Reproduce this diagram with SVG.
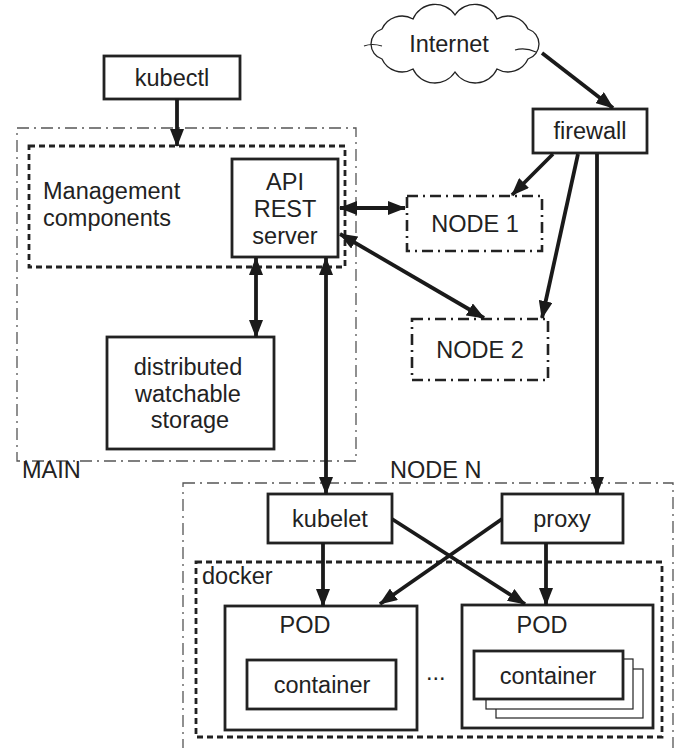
<svg xmlns="http://www.w3.org/2000/svg" width="675" height="748" viewBox="0 0 675 748">
<defs>
<style>
text{font-family:"Liberation Sans",Arial,sans-serif;font-size:23.5px;fill:#222}
.box{fill:none;stroke:#222;stroke-width:2.8}
.fbox{fill:#fff;stroke:#222;stroke-width:2.8}
.thin{fill:#fff;stroke:#222;stroke-width:1.2}
.outer{fill:none;stroke:#555;stroke-width:1.3;stroke-dasharray:12,5,2,5}
.dash{fill:none;stroke:#222;stroke-width:2.8;stroke-dasharray:6,4}
.node{fill:none;stroke:#222;stroke-width:2.6;stroke-dasharray:11,5,2,5}
.c{text-anchor:middle}
.ar{fill:none;stroke:#1a1a1a;stroke-width:3.8;marker-end:url(#ah)}
.dbl{marker-start:url(#ah)}
</style>
<marker id="ah" viewBox="0 0 18 14" refX="17" refY="7" markerWidth="18" markerHeight="14" markerUnits="userSpaceOnUse" orient="auto-start-reverse">
<path d="M0,0 L18,7 L0,14 z" fill="#1a1a1a"/>
</marker>
</defs>
<rect width="675" height="748" fill="#fff"/>

<g id="main">
<rect class="outer" x="17" y="128" width="339" height="333"/>
<text x="22" y="478">MAIN</text>
</g>
<g id="management">
<rect class="dash" x="29" y="146" width="316" height="121"/>
<text x="43" y="199">Management</text>
<text x="43" y="226">components</text>
</g>
<g id="kubectl">
<rect class="box" x="104" y="56" width="136" height="43"/>
<text class="c" x="172" y="86">kubectl</text>
</g>
<g id="api">
<rect class="box" x="232" y="159" width="106" height="98"/>
<text class="c" x="285" y="190">API</text>
<text class="c" x="285" y="217">REST</text>
<text class="c" x="285" y="244">server</text>
</g>
<g id="storage">
<rect class="box" x="107" y="337" width="167" height="112"/>
<text class="c" x="188" y="375">distributed</text>
<text class="c" x="188" y="402">watchable</text>
<text class="c" x="190" y="428">storage</text>
</g>
<g id="internet">
<path d="M371,44 A16,16 0 0 1 382,29 A22,22 0 0 1 413,19 A24,24 0 0 1 455,15 A24,24 0 0 1 497,19 A22,22 0 0 1 528,29 A16,16 0 0 1 539,44 A16,16 0 0 1 528,59 A22,22 0 0 1 497,69 A24,24 0 0 1 455,72 A24,24 0 0 1 413,69 A22,22 0 0 1 382,59 A16,16 0 0 1 371,44 Z" fill="#fff" stroke="#222" stroke-width="1.3"/>
<path d="M364,46 Q372,43 382,46 M515,50 Q525,47 536,52" fill="none" stroke="#222" stroke-width="1.2"/>
<text class="c" x="449" y="52">Internet</text>
</g>
<g id="firewall">
<rect class="box" x="533" y="109" width="114" height="44"/>
<text class="c" x="590" y="139">firewall</text>
</g>
<g id="node1">
<rect class="node" x="407" y="196" width="135" height="55"/>
<text class="c" x="475" y="232">NODE 1</text>
</g>
<g id="node2">
<rect class="node" x="412" y="319" width="136" height="61"/>
<text class="c" x="480" y="358">NODE 2</text>
</g>
<g id="nodeN">
<rect class="outer" x="183" y="483" width="490" height="280"/>
<text x="390" y="478">NODE N</text>
</g>
<g id="docker">
<rect class="dash" x="196" y="562" width="466" height="175"/>
<text x="202" y="584">docker</text>
</g>
<g id="kubelet">
<rect class="box" x="268" y="494" width="124" height="49"/>
<text class="c" x="330" y="527">kubelet</text>
</g>
<g id="proxy">
<rect class="box" x="502" y="494" width="121" height="49"/>
<text class="c" x="562" y="527">proxy</text>
</g>
<g id="pod1">
<rect class="box" x="225" y="606" width="192" height="124"/>
<text class="c" x="305" y="633">POD</text>
<rect class="box" x="247" y="660" width="149" height="49"/>
<text class="c" x="322" y="693">container</text>
</g>
<g id="pod2">
<rect class="box" x="462" y="605" width="191" height="123"/>
<text class="c" x="542" y="633">POD</text>
<rect class="thin" x="496" y="669" width="147" height="49"/>
<rect class="thin" x="486" y="659" width="147" height="50"/>
<rect class="fbox" x="474" y="651" width="149" height="48"/>
<text class="c" x="548" y="684">container</text>
</g>
<g id="dots">
<text x="426" y="680">...</text>
</g>

<g id="connectors">
<line class="ar" x1="177" y1="99" x2="177" y2="146"/>
<line class="ar" x1="542" y1="53" x2="613" y2="108"/>
<line class="ar" x1="553" y1="154" x2="512" y2="195"/>
<line class="ar" x1="578" y1="154" x2="542" y2="318"/>
<line class="ar" x1="597" y1="154" x2="597" y2="494"/>
<line class="ar dbl" x1="340" y1="208" x2="405" y2="208"/>
<line class="ar dbl" x1="340" y1="234" x2="484" y2="318"/>
<line class="ar dbl" x1="256" y1="258" x2="256" y2="337"/>
<line class="ar dbl" x1="326" y1="258" x2="326" y2="494"/>
<line class="ar" x1="323" y1="543" x2="323" y2="606"/>
<line class="ar" x1="546" y1="543" x2="546" y2="605"/>
<line class="ar" x1="392" y1="519" x2="525" y2="604"/>
<line class="ar" x1="502" y1="519" x2="380" y2="604"/>
</g>
</svg>
